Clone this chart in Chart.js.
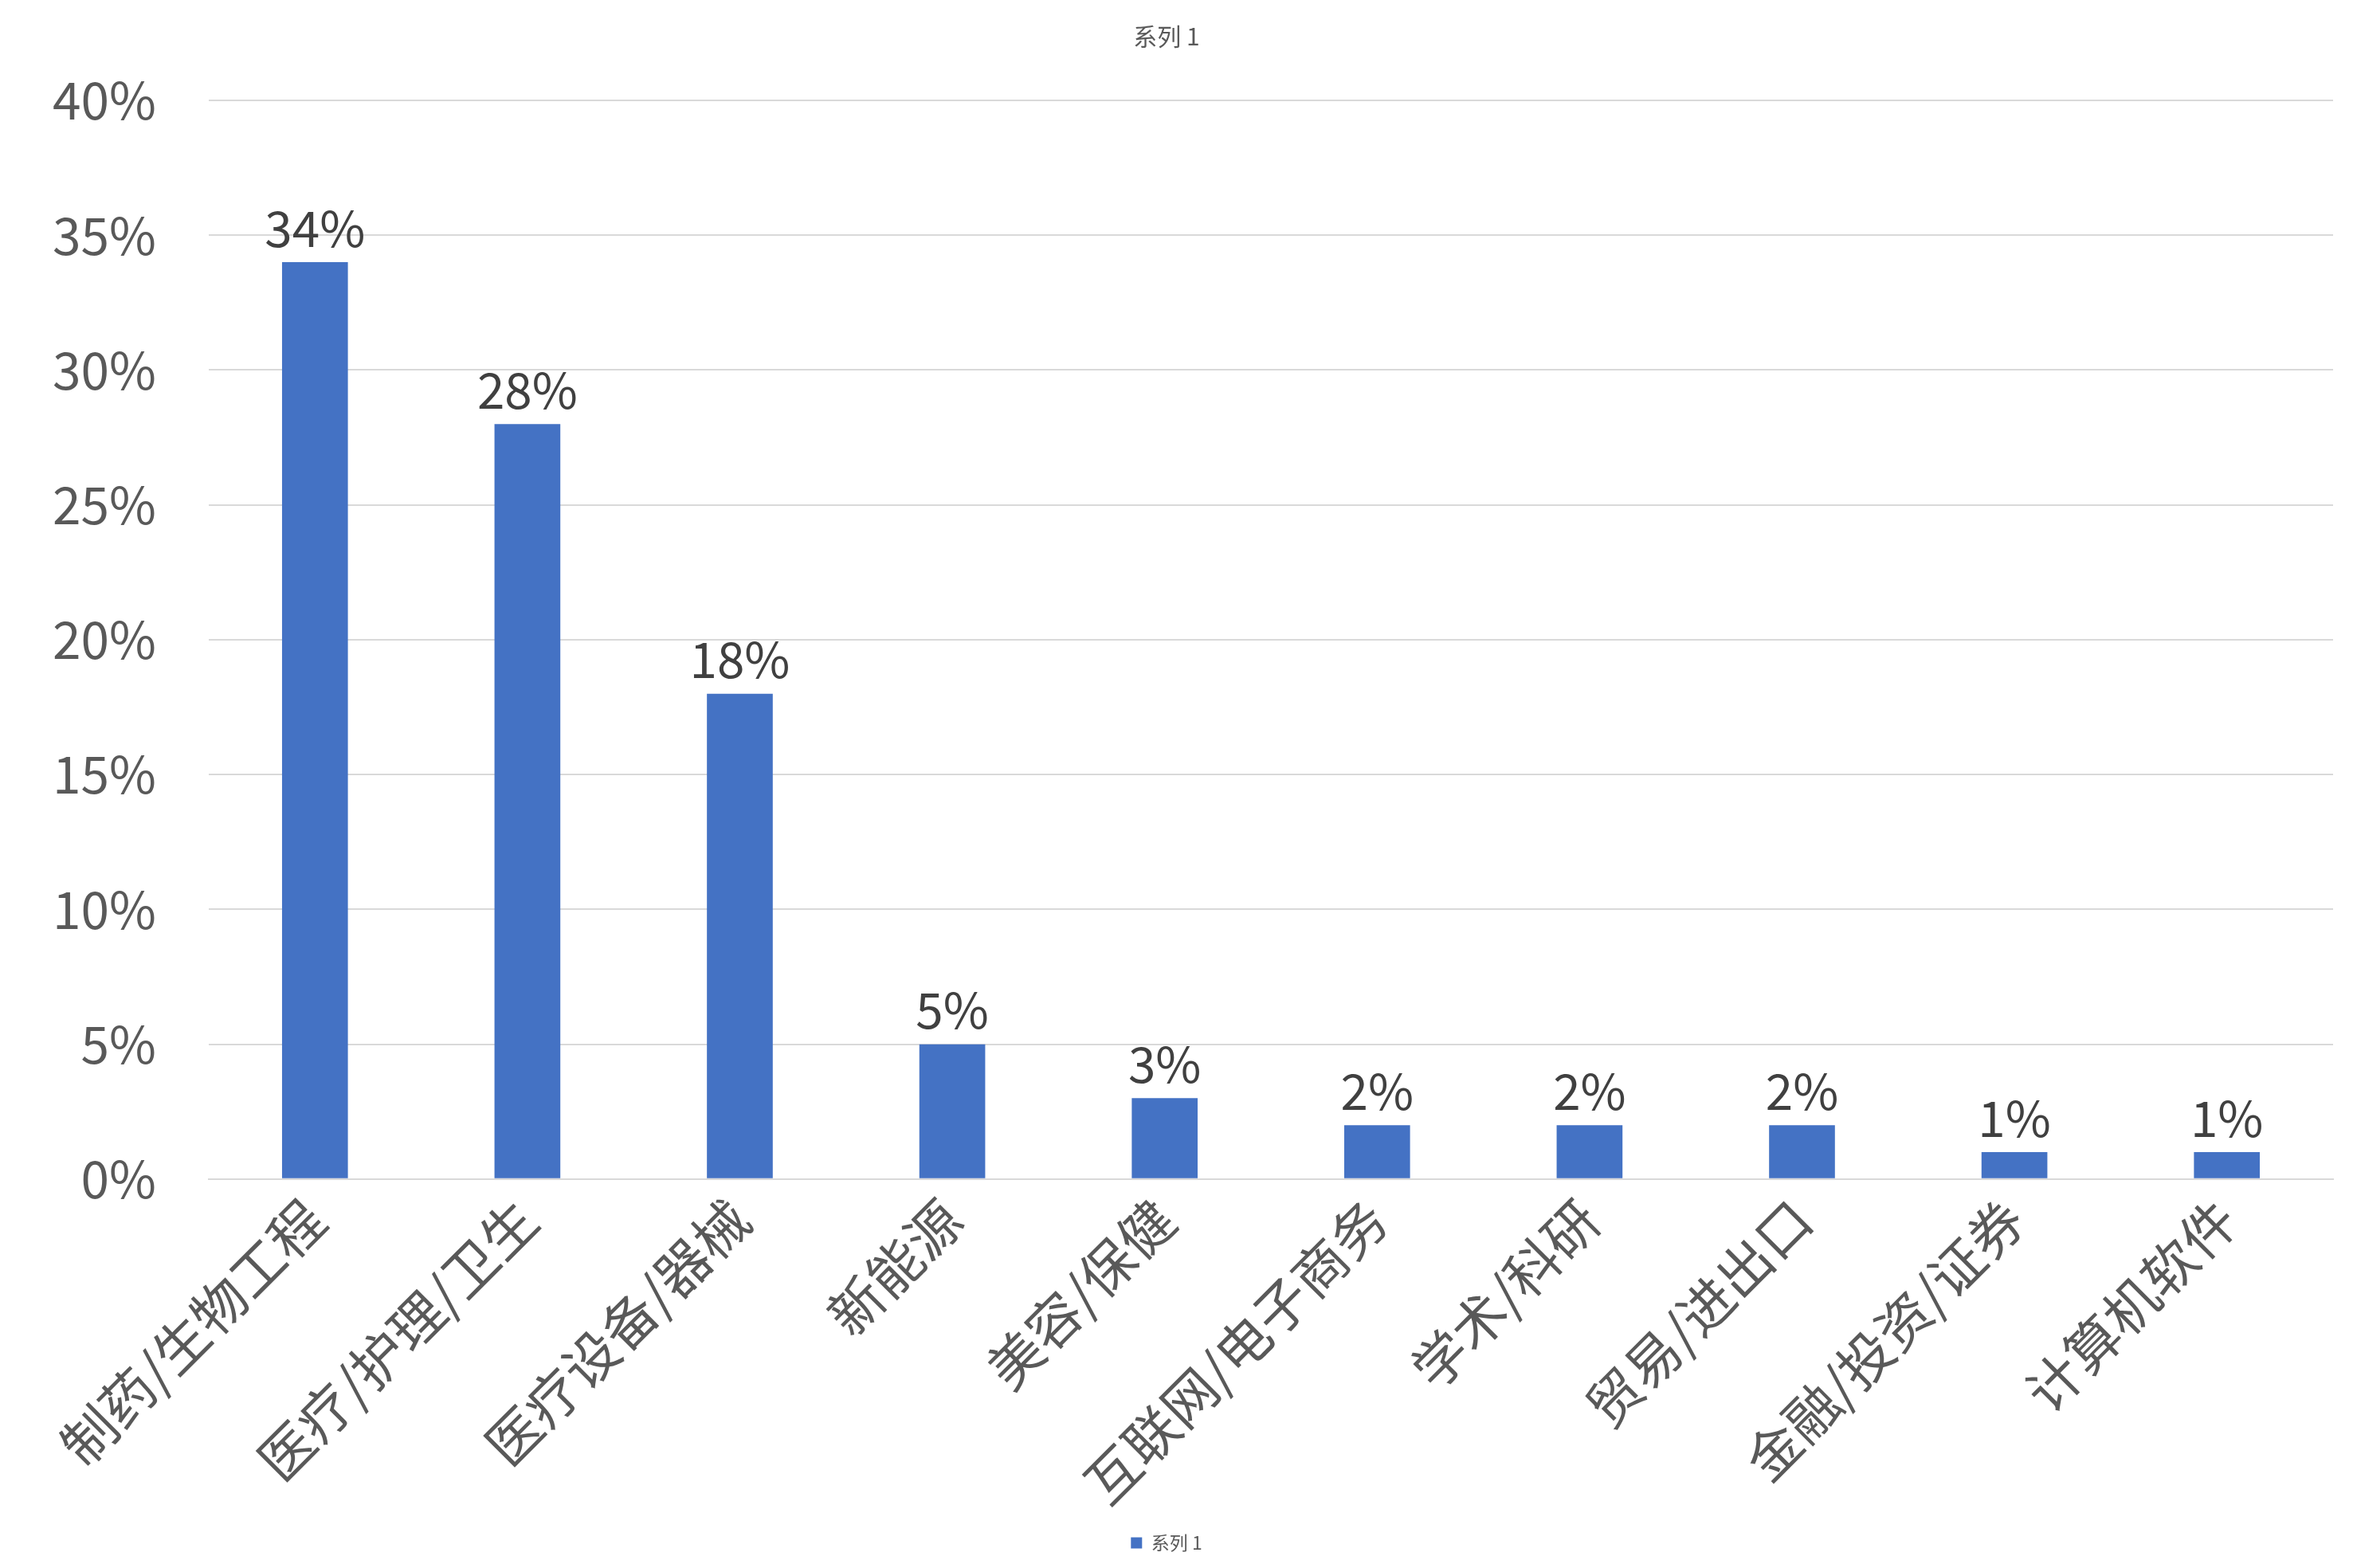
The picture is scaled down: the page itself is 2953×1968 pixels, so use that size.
<!DOCTYPE html>
<html>
<head>
<meta charset="utf-8">
<script src="https://cdn.jsdelivr.net/npm/chart.js@4/dist/chart.umd.min.js"></script>
<style>
  body { margin: 0; background: #fff; }
  #wrap { width: 2953px; height: 1968px; }
</style>
</head>
<body>
<div id="wrap"><canvas id="chart"></canvas></div>
<script>
// data
const categories = ['制药/生物工程', '医疗/护理/卫生', '医疗设备/器械', '新能源', '美容/保健',
  '互联网/电子商务', '学术/科研', '贸易/进出口', '金融/投资/证券', '计算机软件'];
const values = [34, 28, 18, 5, 3, 2, 2, 2, 1, 1];
const yTicks = [0, 5, 10, 15, 20, 25, 30, 35, 40];

const fontFam = '"Noto Sans CJK SC", "Noto Sans", sans-serif';

// value labels above the bars
const barLabels = {
  id: 'barLabels',
  afterDatasetsDraw(chart) {
    const ctx = chart.ctx;
    ctx.save();
    ctx.font = '62px ' + fontFam;
    ctx.fillStyle = '#404040';
    ctx.textAlign = 'center';
    ctx.textBaseline = 'bottom';
    chart.getDatasetMeta(0).data.forEach((bar, i) => {
      ctx.fillText(values[i] + '%', bar.x, bar.y - 12);
    });
    ctx.restore();
  }
};

new Chart(document.getElementById('chart'), {
  type: 'bar',
  data: {
    labels: categories,
    datasets: [{
      label: '系列 1',
      data: values,
      backgroundColor: '#4472c4',
      categoryPercentage: 1,
      barPercentage: 0.31
    }]
  },
  options: {
    responsive: true,
    maintainAspectRatio: false,
    devicePixelRatio: 1,
    animation: false,
    layout: { padding: { top: 10, right: 25, left: 0, bottom: 10 } },
    plugins: {
      title: {
        display: true,
        text: '系列 1',
        color: '#595959',
        font: { family: fontFam, size: 30, weight: 'normal' },
        padding: { top: 18, bottom: 62 }
      },
      legend: {
        position: 'bottom',
        labels: {
          color: '#595959',
          font: { family: fontFam, size: 23 },
          boxWidth: 14,
          boxHeight: 14,
          padding: 20
        }
      },
      tooltip: { enabled: false }
    },
    scales: {
      x: {
        grid: { display: false },
        border: { color: '#d9d9d9', width: 2 },
        ticks: {
          color: '#595959',
          font: { family: fontFam, size: 68 },
          minRotation: 45,
          maxRotation: 45,
          padding: 2
        }
      },
      y: {
        min: 0,
        max: 40,
        afterBuildTicks(axis) { axis.ticks = yTicks.map(v => ({ value: v })); },
        grid: { color: '#d9d9d9', lineWidth: 2, drawTicks: false },
        border: { display: false },
        ticks: {
          color: '#595959',
          font: { family: fontFam, size: 64 },
          padding: 66,
          callback: v => v + '%'
        }
      }
    }
  },
  plugins: [barLabels]
});
</script>
</body>
</html>
